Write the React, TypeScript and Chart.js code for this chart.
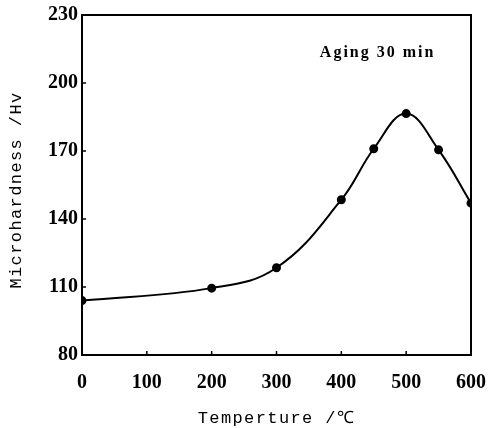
import React, { useEffect, useRef } from "react";
import { Chart, registerables } from "chart.js";

Chart.register(...registerables);

const temperatures = [0, 200, 300, 400, 450, 500, 550, 600];
const hardness = [104, 109.5, 118.5, 148.5, 171, 186.5, 170.5, 147];
const xTickValues = [0, 100, 200, 300, 400, 500, 600];
const yTickValues = [80, 110, 140, 170, 200, 230];
const xTitle = "Temperture /℃";
const yTitle = "Microhardness /Hv";
const annotation = "Aging 30 min";

const framePlugin = {
  id: "frame",
  afterDraw(chart: any) {
    const { ctx, chartArea, scales } = chart;
    const { left, right, top, bottom } = chartArea;
    ctx.save();
    ctx.strokeStyle = "#000";
    ctx.lineWidth = 2;
    ctx.strokeRect(left, top, right - left, bottom - top);
    ctx.lineWidth = 1.5;
    xTickValues.forEach((v) => {
      const x = scales.x.getPixelForValue(v);
      ctx.beginPath();
      ctx.moveTo(x, bottom);
      ctx.lineTo(x, bottom - 4);
      ctx.stroke();
    });
    yTickValues.forEach((v) => {
      const y = scales.y.getPixelForValue(v);
      ctx.beginPath();
      ctx.moveTo(left, y);
      ctx.lineTo(left + 4, y);
      ctx.stroke();
    });
    ctx.fillStyle = "#000";
    ctx.font = 'bold 16px "Liberation Serif"';
    (ctx as any).letterSpacing = "2px";
    ctx.textAlign = "center";
    ctx.textBaseline = "middle";
    ctx.fillText(annotation, left + (right - left) * 0.76, top + 38);
    ctx.font = '17px "Liberation Mono"';
    (ctx as any).letterSpacing = "1.4px";
    ctx.fillText(xTitle, (left + right) / 2, bottom + 63);
    ctx.translate(16, (top + bottom) / 2 + 5);
    ctx.rotate(-Math.PI / 2);
    ctx.fillText(yTitle, 0, 0);
    ctx.restore();
  },
};

export default function App() {
  const ref = useRef<HTMLCanvasElement>(null);
  useEffect(() => {
    const chart = new Chart(ref.current!, {
      type: "line",
      data: {
        datasets: [
          {
            data: temperatures.map((t, i) => ({ x: t, y: hardness[i] })),
            borderColor: "#000",
            backgroundColor: "#000",
            borderWidth: 2,
            pointRadius: 3.5,
            pointBackgroundColor: "#000",
            pointBorderColor: "#000",
            tension: 0.4,
            fill: false,
          },
        ],
      },
      options: {
        responsive: false,
        animation: false,
        layout: { padding: { top: 15, right: 27, left: 0, bottom: 0 } },
        plugins: { legend: { display: false }, tooltip: { enabled: false } },
        scales: {
          x: {
            type: "linear",
            min: 0,
            max: 600,
            afterFit: (s: any) => {
              s.height = 73;
              s.paddingLeft = 0;
              s.paddingRight = 0;
            },
            afterBuildTicks: (s: any) => {
              s.ticks = xTickValues.map((v) => ({ value: v }));
            },
            grid: { display: false, drawTicks: false },
            border: { display: false },
            ticks: {
              padding: 16,
              color: "#000",
              font: { family: "Liberation Serif", size: 20, weight: "bold" },
            },
          },
          y: {
            type: "linear",
            min: 80,
            max: 230,
            afterFit: (s: any) => {
              s.width = 82;
              s.paddingTop = 0;
              s.paddingBottom = 0;
            },
            afterBuildTicks: (s: any) => {
              s.ticks = yTickValues.map((v) => ({ value: v }));
            },
            grid: { display: false, drawTicks: false },
            border: { display: false },
            ticks: {
              padding: 4,
              color: "#000",
              font: { family: "Liberation Serif", size: 20, weight: "bold" },
            },
          },
        },
      },
      plugins: [framePlugin],
    } as any);
    return () => chart.destroy();
  }, []);
  return (
    <div style={{ position: "absolute", left: 0, top: 0, width: 498, height: 428, background: "#fff" }}>
      <canvas ref={ref} width={498} height={428} />
    </div>
  );
}
